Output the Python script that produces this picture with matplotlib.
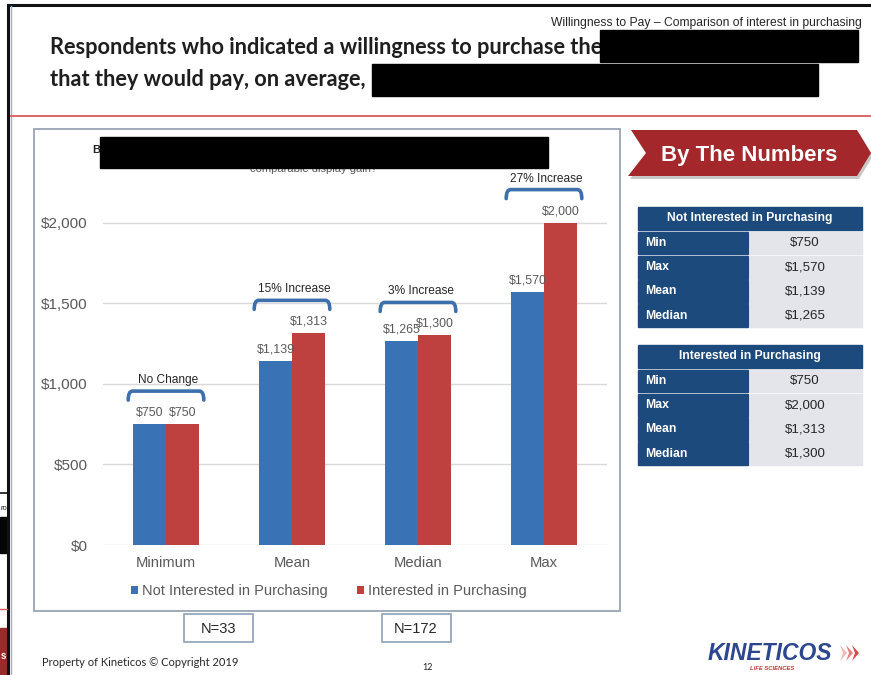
import matplotlib
matplotlib.use("Agg")
import matplotlib.pyplot as plt
from matplotlib.patches import Rectangle, Polygon, PathPatch
from matplotlib.path import Path
import numpy as np

# ---- data -------------------------------------------------------------
categories = ["Minimum", "Mean", "Median", "Max"]
series_names = ["Not Interested in Purchasing", "Interested in Purchasing"]
not_interested = [750, 1139, 1265, 1570]
interested = [750, 1313, 1300, 2000]
change_labels = ["No Change", "15% Increase", "3% Increase", "27% Increase"]
yticks = [0, 500, 1000, 1500, 2000]
sample_sizes = ["N=33", "N=172"]
table_stats = ["Min", "Max", "Mean", "Median"]
table_source = [0, 3, 1, 2]   # category index feeding each table row

# ---- style ------------------------------------------------------------
BLUE = "#3a73b5"
RED = "#bf413f"
NAVY = "#1d4a7c"
CELL = "#e4e5ea"
GREY_TXT = "#595959"
DARK_TXT = "#262626"
BRACE = "#3f70ae"
SANS = "Liberation Sans"
HUMAN = "Lato"

W, H = 871, 675
fig = plt.figure(figsize=(W / 100, H / 100), dpi=100)
fig.patch.set_facecolor("white")

# page layer in pixel units, origin at top-left
page = fig.add_axes([0, 0, 1, 1])
page.set_xlim(0, W)
page.set_ylim(H, 0)
page.axis("off")

# window frame and slide edge
page.plot([8, W], [5, 5], color="#111111", lw=2.2)
page.plot([8, 8], [5, H], color="#111111", lw=2.2)
page.plot([10.5, 10.5], [6, H], color="#8fb4e0", lw=1.0)
# pieces of the window behind
page.plot([0, 7], [493, 493], color="#111111", lw=1.2)
page.add_patch(Rectangle((0, 517), 7, 36, color="#050505"))
page.text(0.5, 508, "ro", fontsize=5.5, family=SANS, color="#222222", va="center")
page.plot([0, 7], [609, 609], color="#d06060", lw=1.0)
page.add_patch(Rectangle((0, 628), 7, 47, color="#9c2a2b"))
page.text(0.5, 656, "s", fontsize=7, family=SANS, weight="bold", color="white", va="center")

# header
page.text(862, 23, "Willingness to Pay \u2013 Comparison of interest in purchasing",
          fontsize=8.7, family=SANS, color=DARK_TXT, ha="right", va="center")
page.text(50, 47, "Respondents who indicated a willingness to purchase the",
          fontsize=15.7, family=HUMAN, weight="bold", color="#1e1e1e", va="center")
page.text(50, 79, "that they would pay, on average,",
          fontsize=15.7, family=HUMAN, weight="bold", color="#1e1e1e", va="center")
page.add_patch(Rectangle((600, 30), 258, 32, color="black", zorder=5))
page.add_patch(Rectangle((372, 64), 446, 32, color="black", zorder=5))
page.plot([11, W], [116, 116], color="#d9666a", lw=1.4)

# chart frame
page.add_patch(Rectangle((34, 129), 586, 482, fill=False, ec="#9aa4b3", lw=1.3))
page.text(92, 150, "B", fontsize=8, family=SANS, weight="bold", color=DARK_TXT, va="center")
page.text(314, 169, "comparable display gain?", fontsize=8, family=SANS,
          color=GREY_TXT, ha="center", va="center")
page.add_patch(Rectangle((100, 137), 448, 31, color="black", zorder=5))

# "By The Numbers" ribbon
page.add_patch(Polygon([(633, 133), (859, 133), (873, 156), (859, 179), (630, 179), (648, 156)],
                       closed=True, color="#c8c8c8", lw=0))
page.add_patch(Polygon([(631, 130), (857, 130), (871, 153), (857, 176), (628, 176), (646, 153)],
                       closed=True, color="#a3272b", lw=0))
page.text(749, 155, "By The Numbers", fontsize=16, family=SANS, weight="bold",
          color="white", ha="center", va="center")

# summary tables built from the series values
def draw_table(top, title, values):
    page.add_patch(Rectangle((638, top), 224, 23, color=NAVY))
    page.text(750, top + 11.5, title, fontsize=8.7, family=SANS, weight="bold",
              color="white", ha="center", va="center")
    for r, (stat, src) in enumerate(zip(table_stats, table_source)):
        y0 = top + 24.5 + r * 24.3
        page.add_patch(Rectangle((638, y0), 110, 22.8, color=NAVY))
        page.add_patch(Rectangle((749.5, y0), 112.5, 22.8, color=CELL))
        page.text(645, y0 + 11.4, stat, fontsize=8.8, family=SANS, weight="bold",
                  color="white", va="center")
        page.text(805, y0 + 11.4, f"${values[src]:,}", fontsize=9.6, family=SANS,
                  color=DARK_TXT, ha="center", va="center")

draw_table(207, series_names[0], not_interested)
draw_table(345, series_names[1], interested)

# sample size boxes
for cx, label in zip([218.5, 416], sample_sizes):
    page.add_patch(Rectangle((cx - 34.5, 614), 69, 28, fill=False, ec="#8fa0b8", lw=1.2))
    page.text(cx, 629, label, fontsize=10.5, family=SANS, color=DARK_TXT,
              ha="center", va="center")

# footer
page.text(42, 662, "Property of Kineticos \u00a9 Copyright 2019", fontsize=8.0,
          family=HUMAN, color=DARK_TXT, va="center")
page.text(428, 667, "12", fontsize=6.5, family=HUMAN, color=DARK_TXT, ha="center", va="center")
page.text(770, 653, "KINETICOS", fontsize=16.5, family=SANS, weight="bold", style="italic",
          color="#2c4690", ha="center", va="center")
page.text(772, 668, "LIFE SCIENCES", fontsize=4.2, family=SANS, weight="bold",
          style="italic", color="#c0393b", ha="center", va="center")
for dx, col in [(0, "#f3b8b8"), (6, "#e88080"), (12, "#d84848")]:
    page.add_patch(Polygon([(840 + dx, 645), (847 + dx, 653), (840 + dx, 661), (843 + dx, 653)],
                           closed=True, color=col, lw=0))

# ---- bar chart ---------------------------------------------------------
ax = fig.add_axes([103 / W, 1 - 545 / H, (607 - 103) / W, (545 - 142) / H])
ax.patch.set_alpha(0)
x = np.arange(len(categories))
bw = 0.262
b1 = ax.bar(x - bw / 2, not_interested, bw, color=BLUE, label=series_names[0], zorder=3)
b2 = ax.bar(x + bw / 2, interested, bw, color=RED, label=series_names[1], zorder=3)
ax.set_xlim(-0.5, len(categories) - 0.5)
ax.set_ylim(0, 2500)
ax.set_yticks(yticks)
ax.set_yticklabels([f"${v:,}" for v in yticks])
ax.set_xticks(x)
ax.set_xticklabels(categories)
ax.yaxis.grid(True, color="#d9d9d9", lw=1.0, zorder=0)
ax.set_axisbelow(True)
for s in ax.spines.values():
    s.set_visible(False)
ax.tick_params(axis="y", length=0, labelsize=11, labelcolor=GREY_TXT, pad=11)
ax.tick_params(axis="x", length=0, labelsize=10.6, labelcolor=GREY_TXT, pad=8)
for lab in ax.get_xticklabels() + ax.get_yticklabels():
    lab.set_family(SANS)

for bars, vals in [(b1, not_interested), (b2, interested)]:
    ax.bar_label(bars, labels=[f"${v:,}" for v in vals], padding=4,
                 fontsize=8.9, color=GREY_TXT, family=SANS)

# change brackets above each pair
fig.canvas.draw()
upp = (ax.get_ylim()[1] - ax.get_ylim()[0]) / ax.bbox.height   # data units per pixel
half = 0.30
for i, lbl in enumerate(change_labels):
    top = max(not_interested[i], interested[i]) + 33 * upp
    drop = 9 * upp
    r = 0.035
    verts = [(i - half, top - drop), (i - half, top), (i - half + r, top),
             (i + half - r, top), (i + half, top), (i + half, top - drop)]
    codes = [Path.MOVETO, Path.CURVE3, Path.CURVE3, Path.LINETO, Path.CURVE3, Path.CURVE3]
    ax.add_patch(PathPatch(Path(verts, codes), fill=False, ec=BRACE, lw=2.6,
                           capstyle="round", zorder=4, clip_on=False))
    ax.text(i + 0.02, top + 5 * upp, lbl, fontsize=8.6, family=SANS, color=DARK_TXT,
            ha="center", va="bottom", clip_on=False)

fig.legend(handles=[b1, b2], loc="center", bbox_to_anchor=(329 / W, 1 - 591 / H),
           ncol=2, frameon=False, prop={"family": SANS, "size": 10.5},
           labelcolor=GREY_TXT, handlelength=0.5, handleheight=0.5,
           handletextpad=0.27, columnspacing=2.0, borderpad=0)

fig.savefig("out.png", dpi=100)
